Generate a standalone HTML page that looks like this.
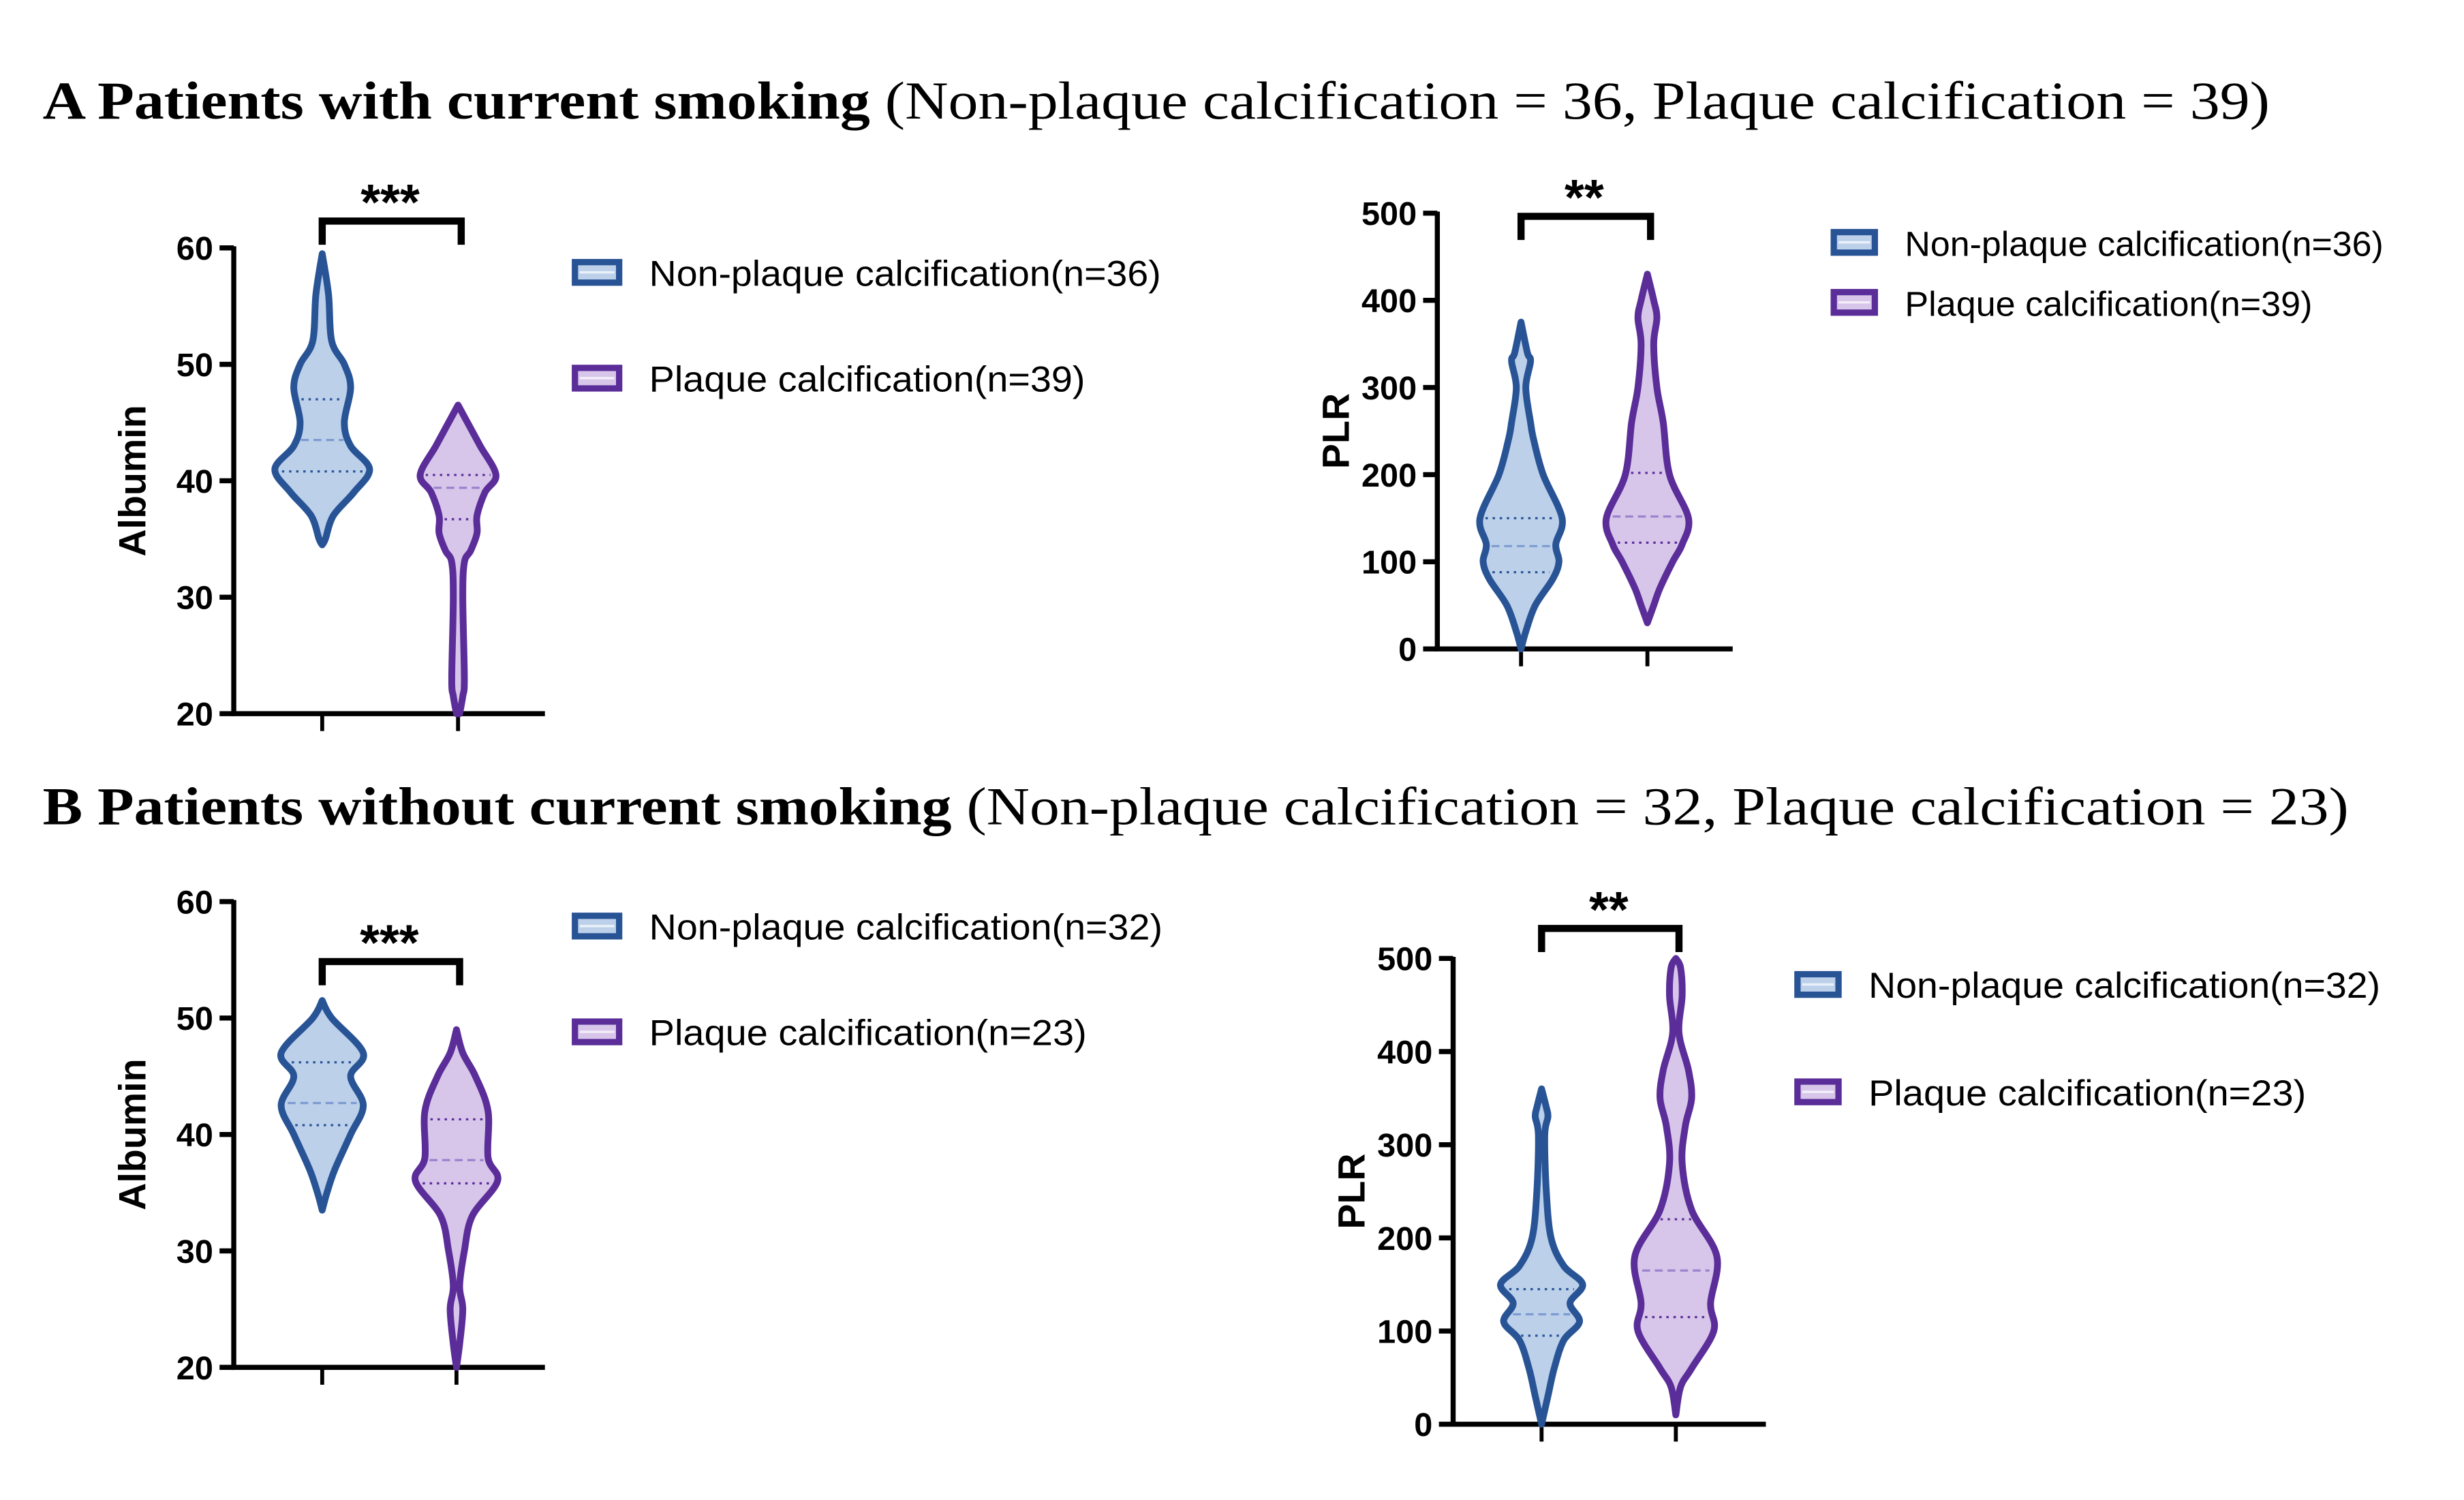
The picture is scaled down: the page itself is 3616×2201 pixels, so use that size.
<!DOCTYPE html>
<html><head><meta charset="utf-8"><style>
html,body{margin:0;padding:0;background:#fff;}
svg{display:block;}
</style></head><body>
<svg id="fig" width="3616" height="2201" viewBox="0 0 1560 950" preserveAspectRatio="none" xmlns="http://www.w3.org/2000/svg">
<rect width="1560" height="950" fill="#fff"/>
<text x="27" y="75" font-family="Liberation Serif, serif" font-size="34" textLength="1410" lengthAdjust="spacingAndGlyphs"><tspan font-weight="bold">A Patients with current smoking</tspan> (Non-plaque calcification = 36, Plaque calcification = 39)</text>
<text x="27" y="522" font-family="Liberation Serif, serif" font-size="34" textLength="1460" lengthAdjust="spacingAndGlyphs"><tspan font-weight="bold">B Patients without current smoking</tspan> (Non-plaque calcification = 32, Plaque calcification = 23)</text>
<g id="charts"></g>
</svg>
<script>
// ---- data ----
// violin profiles: [value, relative density (half-width)]
const aAlbNon = [[59.5,0],[56,4],[52,6],[50,14],[48,18],[45,14],[43,18],[41,30],[39,20],[37,7],[35,2],[34.5,0]];
const aAlbPlq = [[46.5,0],[45,6],[43,14],[40.5,24],[39,17],[37,12],[35.5,12],[34,8],[33,4],[30,3],[23,4],[21.5,3],[20,1]];
const aPlrNon = [[375,0],[340,4],[330,6],[300,3],[260,6],[240,8],[200,14],[150,26],[120,22],[100,24],[80,20],[50,9],[20,3],[0,0]];
const aPlrPlq = [[430,0],[400,4],[380,6],[350,4],[300,6],[260,10],[200,14],[150,26],[120,22],[100,16],[70,8],[50,4],[30,0]];
const bAlbNon = [[51.5,0],[50,6],[47,26],[45,18],[42.5,26],[40,18],[37,8],[35,3],[33.5,0]];
const bAlbPlq = [[49,0],[47,4],[45,12],[42,20],[38,20],[36,26],[33,10],[30,5],[27,2],[25,4],[22,2],[20,0]];
const bPlrNon = [[360,0],[340,3],[330,4],[310,2],[250,3],[200,6],[170,14],[150,26],[130,18],[110,24],[90,14],[60,8],[30,4],[0,0]];
const bPlrPlq = [[500,0],[490,3],[460,4],[420,2],[380,8],[350,10],[320,6],[280,4],[230,10],[180,26],[130,22],[100,24],[60,10],[40,3],[10,0]];
// summary: [q1, median, q3]
const aAlbNonQ = [40.8,43.5,47];
const aAlbPlqQ = [36.7,39.4,40.5];
const aPlrNonQ = [88,118,150];
const aPlrPlqQ = [122,152,202];
const bAlbNonQ = [40.8,42.7,46.2];
const bAlbPlqQ = [35.8,37.8,41.3];
const bPlrNonQ = [95,118,145];
const bPlrPlqQ = [115,165,220];
const albTicks = [20,30,40,50,60];
const plrTicks = [0,100,200,300,400,500];
const legendA = ["Non-plaque calcification(n=36)","Plaque calcification(n=39)"];
const legendB = ["Non-plaque calcification(n=32)","Plaque calcification(n=23)"];

const NS="http://www.w3.org/2000/svg";
const root=document.getElementById('charts');
const BLUE={s:"#285496",f:"#bcd0ea",m:"#7d9bd0"}, PURP={s:"#5a2d99",f:"#d7c6ea",m:"#9c82cc"};
function mk(tag,attrs,parent){const e=document.createElementNS(NS,tag);for(const k in attrs)e.setAttribute(k,attrs[k]);(parent||root).appendChild(e);return e;}

function halfAt(prof,v){for(let i=0;i<prof.length-1;i++){const a=prof[i],b=prof[i+1];if((v<=a[0]&&v>=b[0])){const t=(a[0]-v)/(a[0]-b[0]||1);return a[1]+(b[1]-a[1])*t;}}return 0;}
function smooth(pts){let d="M"+pts[0][0]+","+pts[0][1];for(let i=0;i<pts.length-1;i++){const p0=pts[Math.max(i-1,0)],p1=pts[i],p2=pts[i+1],p3=pts[Math.min(i+2,pts.length-1)];
const c1=[p1[0]+(p2[0]-p0[0])/6,p1[1]+(p2[1]-p0[1])/6],c2=[p2[0]-(p3[0]-p1[0])/6,p2[1]-(p3[1]-p1[1])/6];d+=" C"+c1[0]+","+c1[1]+" "+c2[0]+","+c2[1]+" "+p2[0]+","+p2[1];}return d;}

function chart(o){
  const g=mk('g',{});
  
  
  const y=v=>o.y0-(v-o.vmin)/(o.vmax-o.vmin)*(o.y0-o.y1);
  const ax=mk('path',{d:`M${o.ax},${o.y1-1}V${o.y0}H${o.ax2}`,stroke:"#000","stroke-width":3.2,fill:"none"},g);
  
  
  o.ticks.forEach(t=>{
    mk('line',{x1:o.ax-9,x2:o.ax,y1:y(t),y2:y(t),stroke:"#000","stroke-width":3.2},g);
    const tx=mk('text',{x:o.ax-13,y:y(t)+7.5,"text-anchor":"end","font-family":"Liberation Sans, sans-serif","font-weight":"bold","font-size":21},g);
    tx.textContent=t;
    
    
  });
  o.cx.forEach(c=>mk('line',{x1:c,x2:c,y1:o.y0,y2:o.y0+11,stroke:"#000","stroke-width":2.5},g));
  const yl=mk('text',{transform:`translate(${o.ax-56},${(o.y0+o.y1)/2}) rotate(-90)`,"text-anchor":"middle","font-family":"Liberation Sans, sans-serif","font-weight":"bold","font-size":24},g);
  yl.textContent=o.ylabel;
  
  
  [[o.v1,o.q1,BLUE,o.cx[0]],[o.v2,o.q2,PURP,o.cx[1]]].forEach(([prof,q,col,cx],i)=>{
    const k=o.wscale;
    const right=prof.map(p=>[cx+p[1]*k,y(p[0])]);
    const left=prof.slice().reverse().map(p=>[cx-p[1]*k,y(p[0])]);
    const p=mk('path',{d:smooth(right)+" "+smooth(left).replace("M","L")+"Z",fill:col.f,stroke:col.s,"stroke-width":4.3,"stroke-linejoin":"round"},g);
    
    
    q.forEach((v,j)=>{const h=halfAt(prof,v)*k-3.5;
      mk('line',{x1:cx-h,x2:cx+h,y1:y(v),y2:y(v),stroke:j==1?col.m:col.s,"stroke-width":1.4,"stroke-dasharray":j==1?"5,3":"1.5,3"},g);});
  });
  const br=mk('path',{d:`M${o.cx[0]},${o.by+15}V${o.by}H${o.cx[1]+2}V${o.by+15}`,stroke:"#000","stroke-width":4.5,fill:"none"},g);
  
  
  const st=mk('text',{x:(o.cx[0]+o.cx[1])/2,y:o.by-1,"text-anchor":"middle","font-family":"Liberation Sans, sans-serif","font-weight":"bold","font-size":32},g);
  st.textContent=o.stars;
  
  
  o.legend.forEach((lab,i)=>{
    const col=i?PURP:BLUE, ly=o.ly[i];
    const lg=mk('g',{},g);
    
    
    mk('rect',{x:o.lx+2,y:ly-15,width:o.lw-4,height:13,fill:col.f,stroke:col.s,"stroke-width":4},lg);
    mk('line',{x1:o.lx+5,x2:o.lx+o.lw-5,y1:ly-8.5,y2:ly-8.5,stroke:"#fff","stroke-width":1.5,opacity:.7},lg);
    const t=mk('text',{x:o.lx+o.lw+17,y:ly,"font-family":"Liberation Sans, sans-serif","font-size":o.fs,textLength:o.tl[i],lengthAdjust:"spacingAndGlyphs"},lg);
    t.textContent=lab;
  });
}
chart({name:'chart-a-albumin',ax:148,ax2:345,y0:452,y1:157,vmin:20,vmax:60,ticks:albTicks,cx:[204,290],ylabel:"Albumin",v1:aAlbNon,v2:aAlbPlq,q1:aAlbNonQ,q2:aAlbPlqQ,wscale:1,by:140,stars:"***",legend:legendA,lx:362,lw:32,ly:[181,248],fs:23,tl:[324,276]});
chart({name:'chart-a-plr',ax:910,ax2:1097,y0:411,y1:135,vmin:0,vmax:500,ticks:plrTicks,cx:[963,1043],ylabel:"PLR",v1:aPlrNon,v2:aPlrPlq,q1:aPlrNonQ,q2:aPlrPlqQ,wscale:1,by:137,stars:"**",legend:legendA,lx:1159,lw:30,ly:[162,200],fs:22,tl:[303,258]});
chart({name:'chart-b-albumin',ax:148,ax2:345,y0:866,y1:571,vmin:20,vmax:60,ticks:albTicks,cx:[204,289],ylabel:"Albumin",v1:bAlbNon,v2:bAlbPlq,q1:bAlbNonQ,q2:bAlbPlqQ,wscale:1,by:609,stars:"***",legend:legendB,lx:362,lw:32,ly:[595,662],fs:23,tl:[325,277]});
chart({name:'chart-b-plr',ax:920,ax2:1118,y0:902,y1:607,vmin:0,vmax:500,ticks:plrTicks,cx:[976,1061],ylabel:"PLR",v1:bPlrNon,v2:bPlrPlq,q1:bPlrNonQ,q2:bPlrPlqQ,wscale:1,by:588,stars:"**",legend:legendB,lx:1136,lw:30,ly:[632,700],fs:23,tl:[324,277]});
</script>
</body></html>
